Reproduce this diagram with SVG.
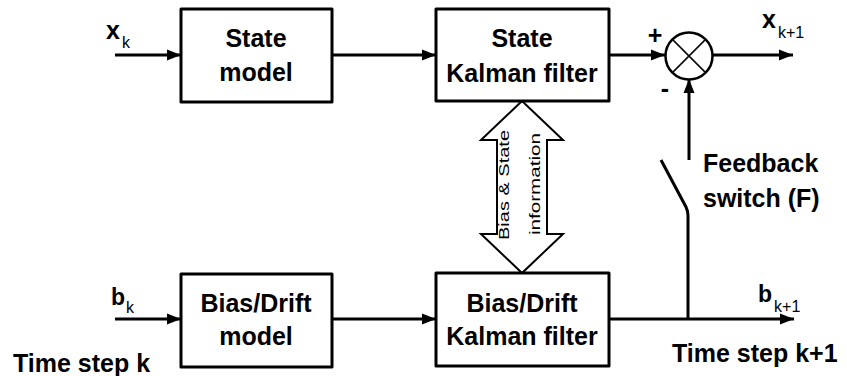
<svg xmlns="http://www.w3.org/2000/svg" width="847" height="376" viewBox="0 0 847 376">
  <style>
    .box { fill: #fff; stroke: #000; stroke-width: 3; stroke-linejoin: round; }
    .wire { fill: none; stroke: #000; stroke-width: 3; }
    .lbl { font-family: "Liberation Sans", Arial, sans-serif; font-weight: bold; font-size: 25px; fill: #000; }
    .mid { text-anchor: middle; }
    .var { font-family: "Liberation Sans", Arial, sans-serif; font-weight: bold; font-size: 23px; fill: #000; }
    .big { font-size: 25px; }
    .sub { font-family: "Liberation Sans", Arial, sans-serif; font-weight: normal; font-size: 16px; fill: #000; }
    .rot { font-family: "Liberation Sans", Arial, sans-serif; font-size: 14.5px; fill: #000; text-anchor: middle; }
  </style>
  <defs>
    <marker id="arrow" markerUnits="userSpaceOnUse" markerWidth="15" markerHeight="12" refX="14" refY="6" orient="auto">
      <path d="M0,0.5 L14,6 L0,11.5 z" fill="#000"/>
    </marker>
  </defs>

  <rect width="847" height="376" fill="#fff"/>

  <!-- connectors -->
  <g id="connectors">
    <line class="wire" x1="115" y1="55" x2="181" y2="55" marker-end="url(#arrow)"/>
    <line class="wire" x1="332" y1="55" x2="436" y2="55" marker-end="url(#arrow)"/>
    <line class="wire" x1="609" y1="55" x2="665" y2="55" marker-end="url(#arrow)"/>
    <line class="wire" x1="713" y1="55" x2="793" y2="55" marker-end="url(#arrow)"/>
    <line class="wire" x1="689" y1="160" x2="689" y2="79" marker-end="url(#arrow)"/>
    <line class="wire" x1="115" y1="319" x2="181" y2="319" marker-end="url(#arrow)"/>
    <line class="wire" x1="332" y1="319" x2="436" y2="319" marker-end="url(#arrow)"/>
    <line class="wire" x1="609" y1="319" x2="794" y2="319" marker-end="url(#arrow)"/>
    <!-- feedback switch (open contact) -->
    <path class="wire" stroke-width="2.5" d="M661,160 L686,207 Q688,211 688,216 L688,319"/>
    <!-- bidirectional information arrow -->
    <polygon points="522,101 563,140 547,140 547,234 563,234 522,273 481,234 497,234 497,140 481,140" fill="#fff" stroke="#000" stroke-width="2" stroke-linejoin="miter"/>
    <text class="rot" transform="translate(509,185) rotate(-90)" textLength="110" lengthAdjust="spacingAndGlyphs">Bias &amp; State</text>
    <text class="rot" transform="translate(540,184) rotate(-90)" textLength="102" lengthAdjust="spacingAndGlyphs">information</text>
  </g>

  <g id="state-model">
    <rect class="box" x="181" y="9" width="151" height="93"/>
    <text class="lbl mid" x="256" y="47">State</text>
    <text class="lbl mid" x="256" y="81">model</text>
  </g>

  <g id="state-kalman">
    <rect class="box" x="436" y="9" width="173" height="92"/>
    <text class="lbl mid" x="522" y="47">State</text>
    <text class="lbl mid" x="522" y="82">Kalman filter</text>
  </g>

  <g id="bias-model">
    <rect class="box" x="181" y="274" width="151" height="93"/>
    <text class="lbl mid" x="256" y="312">Bias/Drift</text>
    <text class="lbl mid" x="256" y="345">model</text>
  </g>

  <g id="bias-kalman">
    <rect class="box" x="436" y="273" width="173" height="93"/>
    <text class="lbl mid" x="522" y="312">Bias/Drift</text>
    <text class="lbl mid" x="522" y="345">Kalman filter</text>
  </g>

  <g id="summing-junction">
    <circle cx="689" cy="56" r="23.5" fill="#fff" stroke="#000" stroke-width="2.5"/>
    <line x1="672.4" y1="39.4" x2="705.6" y2="72.6" stroke="#000" stroke-width="1.5"/>
    <line x1="705.6" y1="39.4" x2="672.4" y2="72.6" stroke="#000" stroke-width="1.5"/>
    <text class="lbl mid" x="655" y="44">+</text>
    <text class="lbl mid" x="665" y="97">-</text>
  </g>

  <g id="labels">
    <text class="var big" x="106" y="39">x<tspan class="sub" dx="2" dy="9">k</tspan></text>
    <text class="var big" x="762" y="28">x<tspan class="sub" dx="2" dy="10">k+1</tspan></text>
    <text class="var" x="111" y="305">b<tspan class="sub" dx="1" dy="8">k</tspan></text>
    <text class="var" x="758" y="302">b<tspan class="sub" dx="2" dy="10">k+1</tspan></text>
    <text class="lbl" x="703" y="172">Feedback</text>
    <text class="lbl" x="703" y="207">switch (F)</text>
    <text class="lbl" x="13" y="372">Time step k</text>
    <text class="lbl" x="672" y="362">Time step k+1</text>
  </g>
</svg>
